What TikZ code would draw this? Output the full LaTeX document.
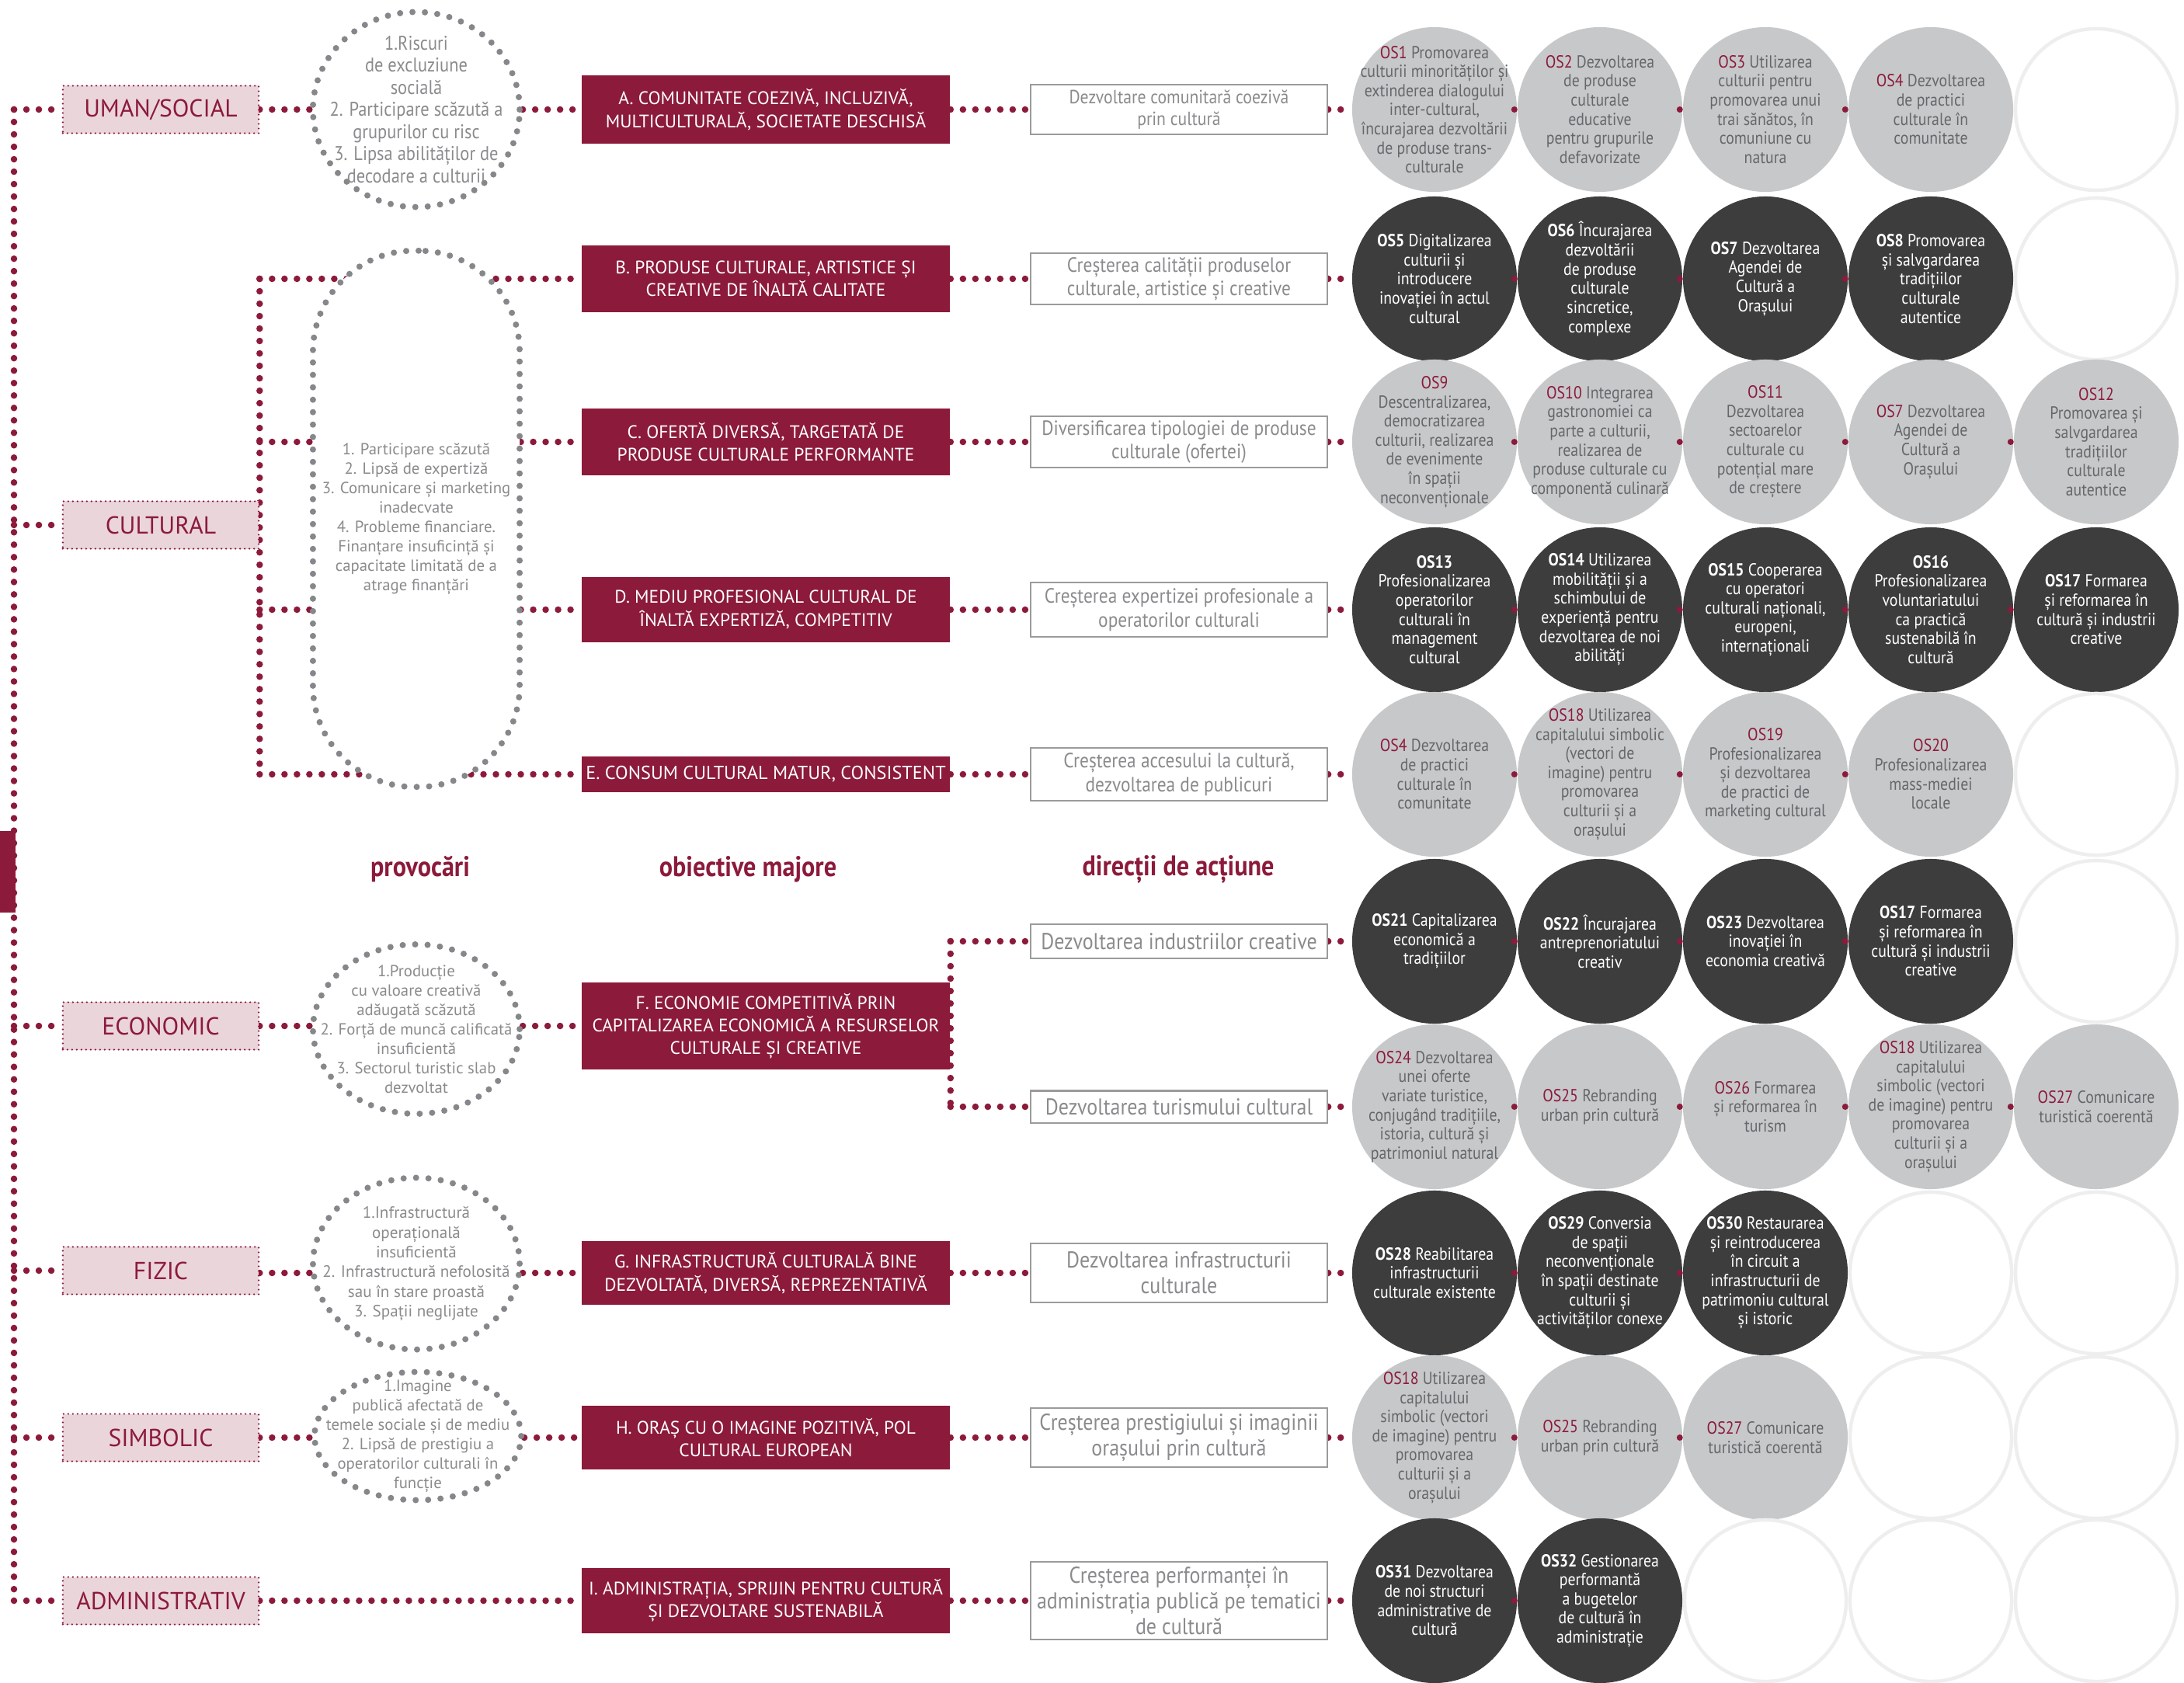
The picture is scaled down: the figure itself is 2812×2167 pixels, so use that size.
\documentclass[tikz,border=0pt]{standalone}
\usepackage{fontspec}
\setmainfont{PT Sans}
\newfontfamily\semi{PT Sans}[FakeStretch=0.88]
\usetikzlibrary{positioning,shapes.geometric,backgrounds,calc}
\definecolor{wine}{HTML}{8C1A3B}
\definecolor{rose}{HTML}{EAD5DB}
\definecolor{dotgrey}{HTML}{86878A}
\definecolor{txtgrey}{HTML}{8A8B8D}
\definecolor{osgrey}{HTML}{C7C8CA}
\definecolor{osdark}{HTML}{3D3D3D}
\definecolor{ostext}{HTML}{66676A}
\definecolor{boxline}{HTML}{9B9B9B}
\definecolor{ghost}{HTML}{EEEEEE}

\newcommand{\osr}[1]{\textcolor{wine}{#1}}
\newcommand{\osw}[1]{\textbf{#1}}

\begin{document}
\begin{tikzpicture}[x=0.01cm,y=-0.01cm,
  lbl/.style={rectangle,fill=rose,draw=wine,line width=0.025cm,
              dash pattern=on 0pt off 0.06cm,line cap=round,
              minimum width=2.52cm,minimum height=0.61cm,
              font=\fontsize{9}{10}\selectfont,text=wine},
  chl/.style={ellipse,draw=dotgrey,fill=white,line width=0.08cm,
              dash pattern=on 0pt off 0.16cm,line cap=round,
              minimum width=2.66cm,inner sep=-0.3cm,align=center,text=txtgrey,
              font=\fontsize{5.9}{7.1}\selectfont},
  obj/.style={rectangle,fill=wine,minimum width=4.74cm,inner sep=0pt,
              align=center,text=white,font=\fontsize{6.65}{8.3}\selectfont},
  dir/.style={rectangle,draw=boxline,line width=0.02cm,fill=white,
              minimum width=3.82cm,inner sep=0pt,align=center,text=txtgrey},
  osl/.style={circle,fill=osgrey,minimum size=2.12cm,inner sep=-0.5cm,
              align=center,text=ostext,font=\semi\fontsize{6.4}{7}\selectfont},
  osd/.style={osl,fill=osdark,text=white},
  ose/.style={circle,draw=ghost,line width=0.045cm,minimum size=2.08cm,inner sep=0pt},
  link/.style={wine,line width=0.085cm,dash pattern=on 0pt off 0.16cm,line cap=round},
  jn/.style={wine,line width=0.08cm,dash pattern=on 0pt off 0.08cm,line cap=round},
  hdr/.style={font=\semi\bfseries\fontsize{10.4}{12}\selectfont,text=wine}
]
\useasboundingbox (0,0) rectangle (2812,2167);

% ---- Domains (left column) ---------------------------------
\node[lbl] (uman) at (207,141)  {UMAN/SOCIAL};
\node[lbl] (cult) at (207,676)  {CULTURAL};
\node[lbl] (econ) at (207,1321) {ECONOMIC};
\node[lbl] (fiz)  at (207,1636) {FIZIC};
\node[lbl] (simb) at (207,1851) {SIMBOLIC};
\node[lbl] (adm)  at (207,2061) {ADMINISTRATIV};
\fill[wine] (0,1070) rectangle (20,1175);

% ---- Challenges --------------------------------------------
\node[chl,minimum height=2.51cm,font=\semi\fontsize{7.25}{8.1}\selectfont]
  (pA) at (536,141) {1.Riscuri\\de excluziune\\socială\\2. Participare scăzută a\\grupurilor cu risc\\3. Lipsa abilităților de\\decodare a culturii};
\node[rectangle,rounded corners=1.3cm,draw=dotgrey,fill=white,line width=0.08cm,
      dash pattern=on 0pt off 0.16cm,line cap=round,minimum width=2.66cm,
      minimum height=6.9cm,inner sep=0pt,align=center,text=txtgrey,
      font=\fontsize{5.9}{7.1}\selectfont]
  (pBE) at (536,668) {1. Participare scăzută\\2. Lipsă de expertiză\\3. Comunicare și marketing\\inadecvate\\4. Probleme financiare.\\Finanțare insuficință și\\capacitate limitată de a\\atrage finanțări};
\node[chl,minimum height=2.18cm]
  (pF) at (536,1325) {1.Producție\\cu valoare creativă\\adăugată scăzută\\2. Forță de muncă calificată\\insuficientă\\3. Sectorul turistic slab\\dezvoltat};
\node[chl,minimum height=2.21cm,font=\fontsize{6}{7.2}\selectfont]
  (pG) at (536,1627) {1.Infrastructură\\operațională\\insuficientă\\2. Infrastructură nefolosită\\sau în stare proastă\\3. Spații neglijate};
\node[chl,minimum height=1.65cm,inner sep=-0.45cm]
  (pH) at (538,1849) {1.Imagine\\publică afectată de\\temele sociale și de mediu\\2. Lipsă de prestigiu a\\operatorilor culturali în\\funcție};

% ---- Major objectives --------------------------------------
\node[obj,minimum height=0.88cm] (oA) at (986,141)  {A. COMUNITATE COEZIVĂ, INCLUZIVĂ,\\MULTICULTURALĂ, SOCIETATE DESCHISĂ};
\node[obj,minimum height=0.86cm] (oB) at (986,359)  {B. PRODUSE CULTURALE, ARTISTICE ȘI\\CREATIVE DE ÎNALTĂ CALITATE};
\node[obj,minimum height=0.86cm] (oC) at (986,569)  {C. OFERTĂ DIVERSĂ, TARGETATĂ DE\\PRODUSE CULTURALE PERFORMANTE};
\node[obj,minimum height=0.84cm] (oD) at (986,785)  {D. MEDIU PROFESIONAL CULTURAL DE\\ÎNALTĂ EXPERTIZĂ, COMPETITIV};
\node[obj,minimum height=0.46cm,font=\fontsize{6.9}{8.3}\selectfont] (oE) at (986,997) {E. CONSUM CULTURAL MATUR, CONSISTENT};
\node[obj,minimum height=1.11cm] (oF) at (986,1321) {F. ECONOMIE COMPETITIVĂ PRIN\\CAPITALIZAREA ECONOMICĂ A RESURSELOR\\CULTURALE ȘI CREATIVE};
\node[obj,minimum height=0.81cm] (oG) at (986,1639) {G. INFRASTRUCTURĂ CULTURALĂ BINE\\DEZVOLTATĂ, DIVERSĂ, REPREZENTATIVĂ};
\node[obj,minimum height=0.81cm] (oH) at (986,1851) {H. ORAȘ CU O IMAGINE POZITIVĂ, POL\\CULTURAL EUROPEAN};
\node[obj,minimum height=0.83cm] (oI) at (986,2061) {I. ADMINISTRAȚIA, SPRIJIN PENTRU CULTURĂ\\ȘI DEZVOLTARE SUSTENABILĂ};

% ---- Directions of action ----------------------------------
\node[dir,minimum height=0.63cm,font=\semi\fontsize{7}{8}\selectfont]     (dA)  at (1518,141)  {Dezvoltare comunitară coezivă\\prin cultură};
\node[dir,minimum height=0.65cm,font=\semi\fontsize{7.55}{8.6}\selectfont] (dB)  at (1518,359)  {Creșterea calității produselor\\culturale, artistice și creative};
\node[dir,minimum height=0.66cm,font=\semi\fontsize{7.55}{8.6}\selectfont] (dC)  at (1518,569)  {Diversificarea tipologiei de produse\\culturale (ofertei)};
\node[dir,minimum height=0.69cm,font=\semi\fontsize{7.55}{8.8}\selectfont] (dD)  at (1518,785)  {Creșterea expertizei profesionale a\\operatorilor culturali};
\node[dir,minimum height=0.68cm,font=\semi\fontsize{7.55}{8.8}\selectfont] (dE)  at (1518,997)  {Creșterea accesului la cultură,\\dezvoltarea de publicuri};
\node[dir,minimum height=0.43cm,font=\semi\fontsize{8.4}{9.5}\selectfont] (dF1) at (1518,1212) {Dezvoltarea industriilor creative};
\node[dir,minimum height=0.41cm,font=\semi\fontsize{8.4}{9.5}\selectfont] (dF2) at (1518,1425) {Dezvoltarea turismului cultural};
\node[dir,minimum height=0.75cm,font=\semi\fontsize{8.4}{9.3}\selectfont] (dG)  at (1518,1639) {Dezvoltarea infrastructurii\\culturale};
\node[dir,minimum height=0.75cm,font=\semi\fontsize{8.4}{9.3}\selectfont] (dH)  at (1518,1851) {Creșterea prestigiului și imaginii\\orașului prin cultură};
\node[dir,minimum height=0.99cm,font=\semi\fontsize{8.4}{9.3}\selectfont] (dI)  at (1518,2061) {Creșterea performanței în\\administrația publică pe tematici\\de cultură};

% ---- Column headings ---------------------------------------
\node[hdr] (hP) at (541,1119)  {provocări};
\node[hdr] (hO) at (963,1119)  {obiective majore};
\node[hdr] (hD) at (1517,1119) {direcții de acțiune};

% ---- Specific objectives (OS circles) ----------------------
% row A
\node[osl] (os1-1) at (1847,141) {\osr{OS1} Promovarea\\culturii minorităților și\\extinderea dialogului\\inter-cultural,\\încurajarea dezvoltării\\de produse trans-\\culturale};
\node[osl] (os1-2) at (2060,141) {\osr{OS2} Dezvoltarea\\de produse\\culturale\\educative\\pentru grupurile\\defavorizate};
\node[osl] (os1-3) at (2273,141) {\osr{OS3} Utilizarea\\culturii pentru\\promovarea unui\\trai sănătos, în\\comuniune cu\\natura};
\node[osl] (os1-4) at (2486,141) {\osr{OS4} Dezvoltarea\\de practici\\culturale în\\comunitate};
\node[ose] (os1-5) at (2699,141) {};
% row B
\node[osd] (os2-1) at (1847,359) {\osw{OS5} Digitalizarea\\culturii și\\introducere\\inovației în actul\\cultural};
\node[osd] (os2-2) at (2060,359) {\osw{OS6} Încurajarea\\dezvoltării\\de produse\\culturale\\sincretice,\\complexe};
\node[osd] (os2-3) at (2273,359) {\osw{OS7} Dezvoltarea\\Agendei de\\Cultură a\\Orașului};
\node[osd] (os2-4) at (2486,359) {\osw{OS8} Promovarea\\și salvgardarea\\tradițiilor\\culturale\\autentice};
\node[ose] (os2-5) at (2699,359) {};
% row C
\node[osl] (os3-1) at (1847,569) {\osr{OS9}\\Descentralizarea,\\democratizarea\\culturii, realizarea\\de evenimente\\în spații\\neconvenționale};
\node[osl] (os3-2) at (2060,569) {\osr{OS10} Integrarea\\gastronomiei ca\\parte a culturii,\\realizarea de\\produse culturale cu\\componentă culinară};
\node[osl] (os3-3) at (2273,569) {\osr{OS11}\\Dezvoltarea\\sectoarelor\\culturale cu\\potențial mare\\de creștere};
\node[osl] (os3-4) at (2486,569) {\osr{OS7} Dezvoltarea\\Agendei de\\Cultură a\\Orașului};
\node[osl] (os3-5) at (2699,569) {\osr{OS12}\\Promovarea și\\salvgardarea\\tradițiilor\\culturale\\autentice};
% row D
\node[osd] (os4-1) at (1847,785) {\osw{OS13}\\Profesionalizarea\\operatorilor\\culturali în\\management\\cultural};
\node[osd] (os4-2) at (2060,785) {\osw{OS14} Utilizarea\\mobilității și a\\schimbului de\\experiență pentru\\dezvoltarea de noi\\abilități};
\node[osd] (os4-3) at (2273,785) {\osw{OS15} Cooperarea\\cu operatori\\culturali naționali,\\europeni,\\internaționali};
\node[osd] (os4-4) at (2486,785) {\osw{OS16}\\Profesionalizarea\\voluntariatului\\ca practică\\sustenabilă în\\cultură};
\node[osd] (os4-5) at (2699,785) {\osw{OS17} Formarea\\și reformarea în\\cultură și industrii\\creative};
% row E
\node[osl] (os5-1) at (1847,997) {\osr{OS4} Dezvoltarea\\de practici\\culturale în\\comunitate};
\node[osl] (os5-2) at (2060,997) {\osr{OS18} Utilizarea\\capitalului simbolic\\(vectori de\\imagine) pentru\\promovarea\\culturii și a\\orașului};
\node[osl] (os5-3) at (2273,997) {\osr{OS19}\\Profesionalizarea\\și dezvoltarea\\de practici de\\marketing cultural};
\node[osl] (os5-4) at (2486,997) {\osr{OS20}\\Profesionalizarea\\mass-mediei\\locale};
\node[ose] (os5-5) at (2699,997) {};
% row F1
\node[osd] (os6-1) at (1847,1212) {\osw{OS21} Capitalizarea\\economică a\\tradițiilor};
\node[osd] (os6-2) at (2060,1212) {\osw{OS22} Încurajarea\\antreprenoriatului\\creativ};
\node[osd] (os6-3) at (2273,1212) {\osw{OS23} Dezvoltarea\\inovației în\\economia creativă};
\node[osd] (os6-4) at (2486,1212) {\osw{OS17} Formarea\\și reformarea în\\cultură și industrii\\creative};
\node[ose] (os6-5) at (2699,1212) {};
% row F2
\node[osl] (os7-1) at (1847,1425) {\osr{OS24} Dezvoltarea\\unei oferte\\variate turistice,\\conjugând tradițiile,\\istoria, cultură și\\patrimoniul natural};
\node[osl] (os7-2) at (2060,1425) {\osr{OS25} Rebranding\\urban prin cultură};
\node[osl] (os7-3) at (2273,1425) {\osr{OS26} Formarea\\și reformarea în\\turism};
\node[osl] (os7-4) at (2486,1425) {\osr{OS18} Utilizarea\\capitalului\\simbolic (vectori\\de imagine) pentru\\promovarea\\culturii și a\\orașului};
\node[osl] (os7-5) at (2699,1425) {\osr{OS27} Comunicare\\turistică coerentă};
% row G
\node[osd] (os8-1) at (1847,1639) {\osw{OS28} Reabilitarea\\infrastructurii\\culturale existente};
\node[osd] (os8-2) at (2060,1639) {\osw{OS29} Conversia\\de spații\\neconvenționale\\în spații destinate\\culturii și\\activităților conexe};
\node[osd] (os8-3) at (2273,1639) {\osw{OS30} Restaurarea\\și reintroducerea\\în circuit a\\infrastructurii de\\patrimoniu cultural\\și istoric};
\node[ose] (os8-4) at (2486,1639) {};
\node[ose] (os8-5) at (2699,1639) {};
% row H
\node[osl] (os9-1) at (1847,1851) {\osr{OS18} Utilizarea\\capitalului\\simbolic (vectori\\de imagine) pentru\\promovarea\\culturii și a\\orașului};
\node[osl] (os9-2) at (2060,1851) {\osr{OS25} Rebranding\\urban prin cultură};
\node[osl] (os9-3) at (2273,1851) {\osr{OS27} Comunicare\\turistică coerentă};
\node[ose] (os9-4) at (2486,1851) {};
\node[ose] (os9-5) at (2699,1851) {};
% row I
\node[osd] (os10-1) at (1847,2061) {\osw{OS31} Dezvoltarea\\de noi structuri\\administrative de\\cultură};
\node[osd] (os10-2) at (2060,2061) {\osw{OS32} Gestionarea\\performantă\\a bugetelor\\de cultură în\\administrație};
\node[ose] (os10-3) at (2273,2061) {};
\node[ose] (os10-4) at (2486,2061) {};
\node[ose] (os10-5) at (2699,2061) {};

% ---- Links between circles ---------------------------------
\foreach \r/\m in {1/3,2/3,3/4,4/4,5/3,6/3,7/4,8/2,9/2,10/1}
  \foreach \c in {1,...,\m} {
    \pgfmathtruncatemacro\d{\c+1}
    \draw[jn] ([xshift=-0.04cm]os\r-\c.east) -- ([xshift=0.04cm]os\r-\d.west);
  }

% ---- Dotted connectors -------------------------------------
\begin{scope}[on background layer]
\coordinate (spT) at (18,141);
\coordinate (spB) at (18,2061);
\draw[link] (spT) -- (spB);
\foreach \n in {uman,cult,econ,fiz,simb,adm}
  \draw[link] (spT |- \n) -- (\n);

\draw[link] (uman) -- (pA) -- (oA);
\draw[link] (econ) -- (pF.west |- oF) (pF.east |- oF) -- (oF);
\draw[link] (fiz.east |- oG) -- (pG.west |- oG) (pG.east |- oG) -- (oG);
\draw[link] (simb) -- (pH.west |- oH) (pH.east |- oH) -- (oH);
\draw[link] (adm) -- (oI);

% cultural bus
\draw[link] (cult.east |- oB) -- (cult.east |- oE);
\foreach \o in {oB,oC,oD,oE}
  \draw[link] (cult.east |- \o) -- (\o);

% objectives to directions
\foreach \o/\d in {oA/dA,oB/dB,oC/dC,oD/dD,oE/dE,oG/dG,oH/dH,oI/dI}
  \draw[link] (\o) -- (\d);
\draw[link] (oF.east |- dF1) -- (oF.east |- dF2);
\draw[link] (oF.east |- dF1) -- (dF1);
\draw[link] (oF.east |- dF2) -- (dF2);

% directions to first circle
\foreach \d/\r in {dA/1,dB/2,dC/3,dD/4,dE/5,dF1/6,dF2/7,dG/8,dH/9,dI/10}
  \draw[link] (\d) -- (os\r-1);
\end{scope}

\end{tikzpicture}
\end{document}
